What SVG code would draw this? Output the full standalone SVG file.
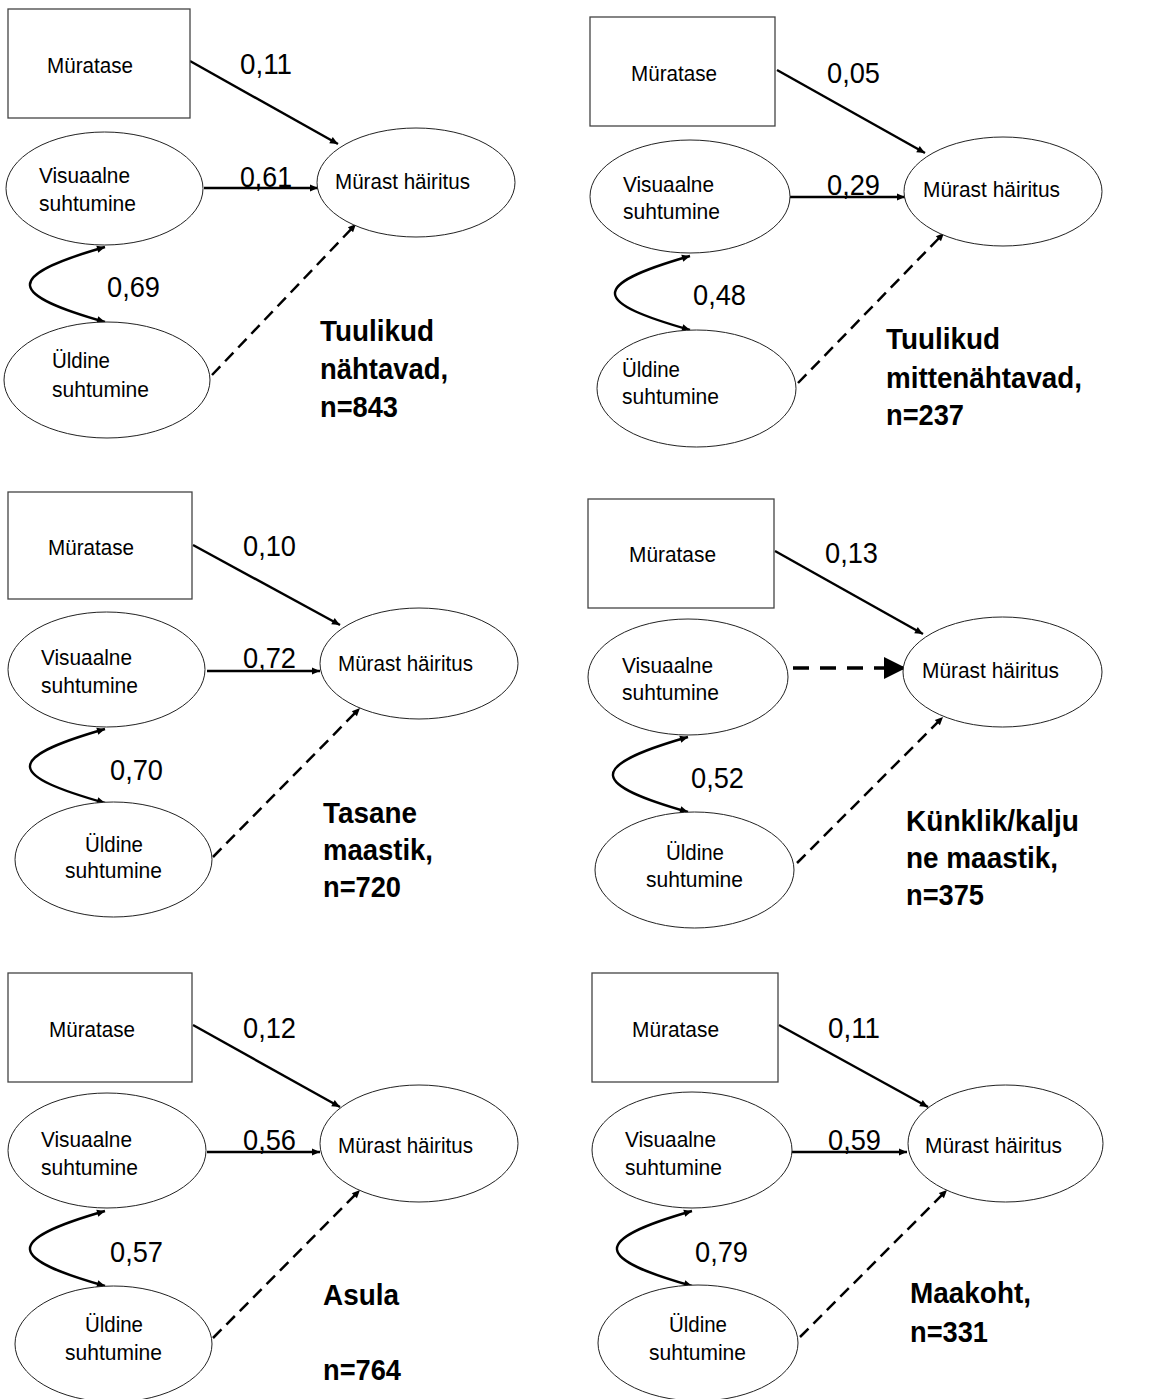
<svg xmlns="http://www.w3.org/2000/svg" width="1154" height="1399" viewBox="0 0 1154 1399">
<style>
text{font-family:"Liberation Sans",Arial,sans-serif;fill:#000}
.n{font-size:22px}
.c{font-size:29px}
.t{font-size:29px;font-weight:bold}
.box{fill:#fff;stroke:#444;stroke-width:1.3}
.ell{fill:#fff;stroke:#222;stroke-width:1}
.ln{fill:none;stroke:#000;stroke-width:2.4}
.ds{fill:none;stroke:#000;stroke-width:2.5;stroke-dasharray:12 7}
.dsb{fill:none;stroke:#000;stroke-width:3.5;stroke-dasharray:16 11}
</style>
<defs>
<marker id="ah" viewBox="0 0 10 10" refX="10" refY="5" markerWidth="10" markerHeight="8" markerUnits="userSpaceOnUse" orient="auto-start-reverse"><path d="M0,0.5 L10,5 L0,9.5z" fill="#000"/></marker>
<marker id="big" viewBox="0 0 10 10" refX="10" refY="5" markerWidth="22" markerHeight="24" markerUnits="userSpaceOnUse" orient="auto"><path d="M0,0 L10,5 L0,10z" fill="#000"/></marker>
</defs>
<rect width="1154" height="1399" fill="#fff"/>

<g id="connectors">
<line class="ln" x1="190" y1="61" x2="338" y2="144" marker-end="url(#ah)"/>
<line class="ln" x1="204" y1="188" x2="318" y2="188" marker-end="url(#ah)"/>
<path class="ln" d="M105,247 C0,277 10,295 105,322" marker-start="url(#ah)" marker-end="url(#ah)"/>
<line class="ds" x1="212" y1="375" x2="356" y2="224" marker-end="url(#ah)"/>

<line class="ln" x1="777" y1="70" x2="925" y2="153" marker-end="url(#ah)"/>
<line class="ln" x1="790" y1="197" x2="905" y2="197" marker-end="url(#ah)"/>
<path class="ln" d="M690,256 C585,286 595,303 690,330" marker-start="url(#ah)" marker-end="url(#ah)"/>
<line class="ds" x1="798" y1="383" x2="944" y2="233" marker-end="url(#ah)"/>

<line class="ln" x1="193" y1="545" x2="340" y2="625" marker-end="url(#ah)"/>
<line class="ln" x1="207" y1="671" x2="320" y2="671" marker-end="url(#ah)"/>
<path class="ln" d="M105,729 C0,759 10,776 105,803" marker-start="url(#ah)" marker-end="url(#ah)"/>
<line class="ds" x1="213" y1="857" x2="360" y2="708" marker-end="url(#ah)"/>

<line class="ln" x1="775" y1="551" x2="923" y2="634" marker-end="url(#ah)"/>
<line class="dsb" x1="793" y1="668" x2="906" y2="668" marker-end="url(#big)"/>
<path class="ln" d="M688,737 C583,767 593,785 688,812" marker-start="url(#ah)" marker-end="url(#ah)"/>
<line class="ds" x1="797" y1="863" x2="943" y2="717" marker-end="url(#ah)"/>

<line class="ln" x1="193" y1="1025" x2="340" y2="1107" marker-end="url(#ah)"/>
<line class="ln" x1="207" y1="1152" x2="320" y2="1152" marker-end="url(#ah)"/>
<path class="ln" d="M105,1211 C0,1241 10,1259 105,1286" marker-start="url(#ah)" marker-end="url(#ah)"/>
<line class="ds" x1="213" y1="1338" x2="360" y2="1190" marker-end="url(#ah)"/>

<line class="ln" x1="779" y1="1025" x2="928" y2="1107" marker-end="url(#ah)"/>
<line class="ln" x1="792" y1="1152" x2="907" y2="1152" marker-end="url(#ah)"/>
<path class="ln" d="M692,1211 C587,1241 597,1259 692,1286" marker-start="url(#ah)" marker-end="url(#ah)"/>
<line class="ds" x1="800" y1="1337" x2="947" y2="1190" marker-end="url(#ah)"/>
</g>

<!-- Panel 1 -->
<g id="p1-muratase"><rect class="box" x="8" y="9" width="182" height="109"/><text class="n" x="47" y="73" textLength="86" lengthAdjust="spacingAndGlyphs">Müratase</text></g>
<g id="p1-visuaalne"><ellipse class="ell" cx="104.5" cy="188.5" rx="98.5" ry="56.5"/><text class="n" x="39" y="183" textLength="91" lengthAdjust="spacingAndGlyphs">Visuaalne</text><text class="n" x="39" y="211" textLength="97" lengthAdjust="spacingAndGlyphs">suhtumine</text></g>
<g id="p1-hairitus"><ellipse class="ell" cx="416" cy="182.5" rx="99" ry="54.5"/><text class="n" x="335" y="189" textLength="135" lengthAdjust="spacingAndGlyphs">Mürast häiritus</text></g>
<g id="p1-uldine"><ellipse class="ell" cx="107" cy="380" rx="103" ry="58"/><text class="n" x="52" y="368" textLength="58" lengthAdjust="spacingAndGlyphs">Üldine</text><text class="n" x="52" y="397" textLength="97" lengthAdjust="spacingAndGlyphs">suhtumine</text></g>
<g id="p1-labels"><text class="c" x="240" y="74" textLength="52" lengthAdjust="spacingAndGlyphs">0,11</text><text class="c" x="240" y="187" textLength="52" lengthAdjust="spacingAndGlyphs">0,61</text><text class="c" x="107" y="297" textLength="53" lengthAdjust="spacingAndGlyphs">0,69</text>
<text class="t" x="320" y="341" textLength="114" lengthAdjust="spacingAndGlyphs">Tuulikud</text><text class="t" x="320" y="379" textLength="128" lengthAdjust="spacingAndGlyphs">nähtavad,</text><text class="t" x="320" y="417" textLength="78" lengthAdjust="spacingAndGlyphs">n=843</text></g>

<!-- Panel 2 -->
<g id="p2-muratase"><rect class="box" x="590" y="17" width="185" height="109"/><text class="n" x="631" y="81" textLength="86" lengthAdjust="spacingAndGlyphs">Müratase</text></g>
<g id="p2-visuaalne"><ellipse class="ell" cx="690" cy="196.5" rx="100" ry="56.5"/><text class="n" x="623" y="192" textLength="91" lengthAdjust="spacingAndGlyphs">Visuaalne</text><text class="n" x="623" y="219" textLength="97" lengthAdjust="spacingAndGlyphs">suhtumine</text></g>
<g id="p2-hairitus"><ellipse class="ell" cx="1003" cy="191.5" rx="99" ry="54.5"/><text class="n" x="923" y="197" textLength="137" lengthAdjust="spacingAndGlyphs">Mürast häiritus</text></g>
<g id="p2-uldine"><ellipse class="ell" cx="696.5" cy="388.5" rx="99.5" ry="58.5"/><text class="n" x="622" y="377" textLength="58" lengthAdjust="spacingAndGlyphs">Üldine</text><text class="n" x="622" y="404" textLength="97" lengthAdjust="spacingAndGlyphs">suhtumine</text></g>
<g id="p2-labels"><text class="c" x="827" y="83" textLength="53" lengthAdjust="spacingAndGlyphs">0,05</text><text class="c" x="827" y="195" textLength="53" lengthAdjust="spacingAndGlyphs">0,29</text><text class="c" x="693" y="305" textLength="53" lengthAdjust="spacingAndGlyphs">0,48</text>
<text class="t" x="886" y="349" textLength="114" lengthAdjust="spacingAndGlyphs">Tuulikud</text><text class="t" x="886" y="388" textLength="196" lengthAdjust="spacingAndGlyphs">mittenähtavad,</text><text class="t" x="886" y="425" textLength="78" lengthAdjust="spacingAndGlyphs">n=237</text></g>

<!-- Panel 3 -->
<g id="p3-muratase"><rect class="box" x="8" y="492" width="184" height="107"/><text class="n" x="48" y="555" textLength="86" lengthAdjust="spacingAndGlyphs">Müratase</text></g>
<g id="p3-visuaalne"><ellipse class="ell" cx="106.5" cy="669.5" rx="98.5" ry="57.5"/><text class="n" x="41" y="665" textLength="91" lengthAdjust="spacingAndGlyphs">Visuaalne</text><text class="n" x="41" y="693" textLength="97" lengthAdjust="spacingAndGlyphs">suhtumine</text></g>
<g id="p3-hairitus"><ellipse class="ell" cx="419" cy="663.5" rx="99" ry="55.5"/><text class="n" x="338" y="671" textLength="135" lengthAdjust="spacingAndGlyphs">Mürast häiritus</text></g>
<g id="p3-uldine"><ellipse class="ell" cx="113.5" cy="859.5" rx="98.5" ry="57.5"/><text class="n" x="85" y="852" textLength="58" lengthAdjust="spacingAndGlyphs">Üldine</text><text class="n" x="65" y="878" textLength="97" lengthAdjust="spacingAndGlyphs">suhtumine</text></g>
<g id="p3-labels"><text class="c" x="243" y="556" textLength="53" lengthAdjust="spacingAndGlyphs">0,10</text><text class="c" x="243" y="668" textLength="53" lengthAdjust="spacingAndGlyphs">0,72</text><text class="c" x="110" y="780" textLength="53" lengthAdjust="spacingAndGlyphs">0,70</text>
<text class="t" x="323" y="823" textLength="94" lengthAdjust="spacingAndGlyphs">Tasane</text><text class="t" x="323" y="860" textLength="110" lengthAdjust="spacingAndGlyphs">maastik,</text><text class="t" x="323" y="897" textLength="78" lengthAdjust="spacingAndGlyphs">n=720</text></g>

<!-- Panel 4 -->
<g id="p4-muratase"><rect class="box" x="588" y="499" width="186" height="109"/><text class="n" x="629" y="562" textLength="87" lengthAdjust="spacingAndGlyphs">Müratase</text></g>
<g id="p4-visuaalne"><ellipse class="ell" cx="688" cy="677" rx="100" ry="58"/><text class="n" x="622" y="673" textLength="91" lengthAdjust="spacingAndGlyphs">Visuaalne</text><text class="n" x="622" y="700" textLength="97" lengthAdjust="spacingAndGlyphs">suhtumine</text></g>
<g id="p4-hairitus"><ellipse class="ell" cx="1002.5" cy="672" rx="99.5" ry="55"/><text class="n" x="922" y="678" textLength="137" lengthAdjust="spacingAndGlyphs">Mürast häiritus</text></g>
<g id="p4-uldine"><ellipse class="ell" cx="694.5" cy="870" rx="99.5" ry="58"/><text class="n" x="666" y="860" textLength="58" lengthAdjust="spacingAndGlyphs">Üldine</text><text class="n" x="646" y="887" textLength="97" lengthAdjust="spacingAndGlyphs">suhtumine</text></g>
<g id="p4-labels"><text class="c" x="825" y="563" textLength="53" lengthAdjust="spacingAndGlyphs">0,13</text><text class="c" x="691" y="788" textLength="53" lengthAdjust="spacingAndGlyphs">0,52</text>
<text class="t" x="906" y="831" textLength="173" lengthAdjust="spacingAndGlyphs">Künklik/kalju</text><text class="t" x="906" y="868" textLength="152" lengthAdjust="spacingAndGlyphs">ne maastik,</text><text class="t" x="906" y="905" textLength="78" lengthAdjust="spacingAndGlyphs">n=375</text></g>

<!-- Panel 5 -->
<g id="p5-muratase"><rect class="box" x="8" y="973" width="184" height="109"/><text class="n" x="49" y="1037" textLength="86" lengthAdjust="spacingAndGlyphs">Müratase</text></g>
<g id="p5-visuaalne"><ellipse class="ell" cx="107" cy="1150.5" rx="99" ry="57.5"/><text class="n" x="41" y="1147" textLength="91" lengthAdjust="spacingAndGlyphs">Visuaalne</text><text class="n" x="41" y="1175" textLength="97" lengthAdjust="spacingAndGlyphs">suhtumine</text></g>
<g id="p5-hairitus"><ellipse class="ell" cx="419" cy="1143.5" rx="99" ry="58.5"/><text class="n" x="338" y="1153" textLength="135" lengthAdjust="spacingAndGlyphs">Mürast häiritus</text></g>
<g id="p5-uldine"><ellipse class="ell" cx="113.5" cy="1344" rx="98.5" ry="58"/><text class="n" x="85" y="1332" textLength="58" lengthAdjust="spacingAndGlyphs">Üldine</text><text class="n" x="65" y="1360" textLength="97" lengthAdjust="spacingAndGlyphs">suhtumine</text></g>
<g id="p5-labels"><text class="c" x="243" y="1038" textLength="53" lengthAdjust="spacingAndGlyphs">0,12</text><text class="c" x="243" y="1150" textLength="53" lengthAdjust="spacingAndGlyphs">0,56</text><text class="c" x="110" y="1262" textLength="53" lengthAdjust="spacingAndGlyphs">0,57</text>
<text class="t" x="323" y="1305" textLength="76" lengthAdjust="spacingAndGlyphs">Asula</text><text class="t" x="323" y="1380" textLength="78" lengthAdjust="spacingAndGlyphs">n=764</text></g>

<!-- Panel 6 -->
<g id="p6-muratase"><rect class="box" x="592" y="973" width="186" height="109"/><text class="n" x="632" y="1037" textLength="87" lengthAdjust="spacingAndGlyphs">Müratase</text></g>
<g id="p6-visuaalne"><ellipse class="ell" cx="692" cy="1150" rx="100" ry="58"/><text class="n" x="625" y="1147" textLength="91" lengthAdjust="spacingAndGlyphs">Visuaalne</text><text class="n" x="625" y="1175" textLength="97" lengthAdjust="spacingAndGlyphs">suhtumine</text></g>
<g id="p6-hairitus"><ellipse class="ell" cx="1005.5" cy="1143.5" rx="97.5" ry="58.5"/><text class="n" x="925" y="1153" textLength="137" lengthAdjust="spacingAndGlyphs">Mürast häiritus</text></g>
<g id="p6-uldine"><ellipse class="ell" cx="698" cy="1343" rx="100" ry="58"/><text class="n" x="669" y="1332" textLength="58" lengthAdjust="spacingAndGlyphs">Üldine</text><text class="n" x="649" y="1360" textLength="97" lengthAdjust="spacingAndGlyphs">suhtumine</text></g>
<g id="p6-labels"><text class="c" x="828" y="1038" textLength="52" lengthAdjust="spacingAndGlyphs">0,11</text><text class="c" x="828" y="1150" textLength="53" lengthAdjust="spacingAndGlyphs">0,59</text><text class="c" x="695" y="1262" textLength="53" lengthAdjust="spacingAndGlyphs">0,79</text>
<text class="t" x="910" y="1303" textLength="121" lengthAdjust="spacingAndGlyphs">Maakoht,</text><text class="t" x="910" y="1342" textLength="78" lengthAdjust="spacingAndGlyphs">n=331</text></g>
</svg>
